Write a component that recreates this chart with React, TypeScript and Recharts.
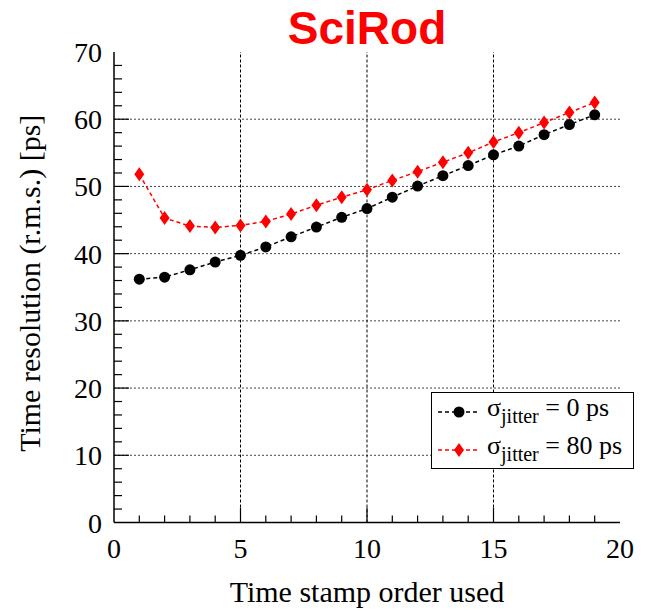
import React from 'react';
import { LineChart, Line, XAxis, YAxis, ReferenceLine, Legend } from 'recharts';

// time stamp order (x) and the two resolution curves in ps
const stampOrder = [1, 2, 3, 4, 5, 6, 7, 8, 9, 10, 11, 12, 13, 14, 15, 16, 17, 18, 19];
const jitter0 = [36.2, 36.5, 37.6, 38.75, 39.75, 41.0, 42.5, 43.95, 45.4, 46.7, 48.4, 50.05, 51.6, 53.1, 54.7, 56.0, 57.7, 59.2, 60.65];
const jitter80 = [51.8, 45.3, 44.1, 43.9, 44.2, 44.8, 45.9, 47.2, 48.4, 49.5, 50.9, 52.2, 53.6, 55.0, 56.6, 58.0, 59.5, 61.0, 62.5];

const xTicks = [0, 1, 2, 3, 4, 5, 6, 7, 8, 9, 10, 11, 12, 13, 14, 15, 16, 17, 18, 19, 20];
const yTicks = [0, 2, 4, 6, 8, 10, 12, 14, 16, 18, 20, 22, 24, 26, 28, 30, 32, 34, 36, 38, 40, 42, 44, 46, 48, 50, 52, 54, 56, 58, 60, 62, 64, 66, 68, 70];
const xGrid = [5, 10, 15];
const yGrid = [10, 20, 30, 40, 50, 60];

const legendValues = ['0 ps', '80 ps'];

const data = stampOrder.map((x, i) => ({ x, j0: jitter0[i], j80: jitter80[i] }));

const SERIF = '"Liberation Serif", "Times New Roman", serif';

const XTick = (props: any) => {
  const { x, y, payload } = props;
  const major = payload.value % 5 === 0;
  return (
    <g>
      {payload.value !== 0 && payload.value !== 20 && (
        <line x1={x} y1={y} x2={x} y2={y - (major ? 15 : 7)} stroke="#000" strokeWidth={1.2} />
      )}
      {major && (
        <text x={x} y={y + 35} textAnchor="middle" fontFamily={SERIF} fontSize={28} fill="#000">
          {payload.value}
        </text>
      )}
    </g>
  );
};

const YTick = (props: any) => {
  const { x, y, payload } = props;
  const major = payload.value % 10 === 0;
  return (
    <g>
      {payload.value !== 0 && payload.value !== 70 && (
        <line x1={x} y1={y} x2={x + (major ? 15 : 8)} y2={y} stroke="#000" strokeWidth={1.2} />
      )}
      {major && (
        <text x={x - 12} y={y + 10} textAnchor="end" fontFamily={SERIF} fontSize={28} fill="#000">
          {payload.value}
        </text>
      )}
    </g>
  );
};

const Circle = (props: any) => {
  const { cx, cy, index } = props;
  return <circle key={`c-${index}`} cx={cx} cy={cy} r={5.5} fill="#000" />;
};

const Diamond = (props: any) => {
  const { cx, cy, index } = props;
  return (
    <polygon
      key={`d-${index}`}
      points={`${cx},${cy - 7} ${cx + 5},${cy} ${cx},${cy + 7} ${cx - 5},${cy}`}
      fill="#ff0000"
    />
  );
};

const LegendBox = () => (
  <div style={{ width: 203, height: 77, border: '1px solid #000', background: '#fff', boxSizing: 'border-box' }}>
    <svg width={201} height={75}>
      {legendValues.map((val, i) => {
        const ly = i === 0 ? 19 : 57;
        const color = i === 0 ? '#000' : '#ff0000';
        return (
          <g key={val}>
            <line x1={6} y1={ly} x2={48} y2={ly} stroke={color} strokeWidth={1.5} strokeDasharray="4 3" />
            {i === 0 ? (
              <circle cx={27} cy={ly} r={5.5} fill="#000" />
            ) : (
              <polygon points={`27,${ly - 7} 32,${ly} 27,${ly + 7} 22,${ly}`} fill="#ff0000" />
            )}
            <text x={55} y={ly + 4} fontFamily={SERIF} fontSize={26} fill="#000">
              σ
              <tspan dy={7} fontSize={20}>jitter</tspan>
              <tspan dy={-7} fontSize={26}>{` = ${val}`}</tspan>
            </text>
          </g>
        );
      })}
    </svg>
  </div>
);

export default function App() {
  return (
    <div style={{ position: 'absolute', left: 0, top: 0, width: 649, height: 611, background: '#fff' }}>
      <div
        style={{
          position: 'absolute',
          left: 114,
          width: 506,
          top: 5,
          textAlign: 'center',
          fontFamily: '"Liberation Sans", Arial, sans-serif',
          fontWeight: 'bold',
          fontSize: 46,
          lineHeight: '46px',
          color: '#ff0000',
          zIndex: 2,
        }}
      >
        SciRod
      </div>
      <LineChart width={649} height={611} data={data} margin={{ top: 52, right: 29, bottom: 28.5, left: 0 }}>
        <XAxis
          dataKey="x"
          type="number"
          domain={[0, 20]}
          ticks={xTicks}
          interval={0}
          tickSize={0}
          tickMargin={0}
          tickLine={false}
          tick={<XTick />}
          height={60}
          axisLine={{ stroke: '#000', strokeWidth: 1.5 }}
          label={{
            content: (p: any) => {
              const vb = p.viewBox;
              return (
                <text x={vb.x + vb.width / 2} y={602} textAnchor="middle" fontFamily={SERIF} fontSize={30} fill="#000">
                  Time stamp order used
                </text>
              );
            },
          }}
        />
        <XAxis xAxisId="top" orientation="top" type="number" domain={[0, 20]} height={0} tick={false} tickLine={false} axisLine={{ stroke: '#000', strokeWidth: 1.5 }} />
        <YAxis
          type="number"
          domain={[0, 70]}
          ticks={yTicks}
          interval={0}
          tickSize={0}
          tickMargin={0}
          tickLine={false}
          tick={<YTick />}
          width={114}
          axisLine={{ stroke: '#000', strokeWidth: 1.5 }}
          label={{
            content: (p: any) => {
              const vb = p.viewBox;
              const cy = vb.y + vb.height / 2 - 4;
              return (
                <text
                  x={40}
                  y={cy}
                  transform={`rotate(-90, 40, ${cy})`}
                  textAnchor="middle"
                  fontFamily={SERIF}
                  fontSize={30}
                  fill="#000"
                >
                  Time resolution (r.m.s.) [ps]
                </text>
              );
            },
          }}
        />
        <YAxis yAxisId="right" orientation="right" type="number" domain={[0, 70]} width={0} tick={false} tickLine={false} axisLine={{ stroke: '#000', strokeWidth: 1.5 }} />
        {yGrid.map((v) => (
          <ReferenceLine key={`gy-${v}`} y={v} stroke="#444" strokeWidth={1} strokeDasharray="2 2" />
        ))}
        {xGrid.map((v) => (
          <ReferenceLine key={`gx-${v}`} x={v} stroke="#000" strokeWidth={1} strokeDasharray="3 2" />
        ))}
        <Legend
          content={<LegendBox />}
          layout="vertical"
          align="center"
          verticalAlign="middle"
          width={203}
          height={77}
          wrapperStyle={{ left: 431, top: 392, width: 203, height: 77 }}
        />
        <Line
          dataKey="j0"
          stroke="#000"
          strokeWidth={1.5}
          strokeDasharray="4 3"
          dot={<Circle />}
          isAnimationActive={false}
        />
        <Line
          dataKey="j80"
          stroke="#ff0000"
          strokeWidth={1.5}
          strokeDasharray="4 3"
          dot={<Diamond />}
          isAnimationActive={false}
        />
      </LineChart>
    </div>
  );
}
